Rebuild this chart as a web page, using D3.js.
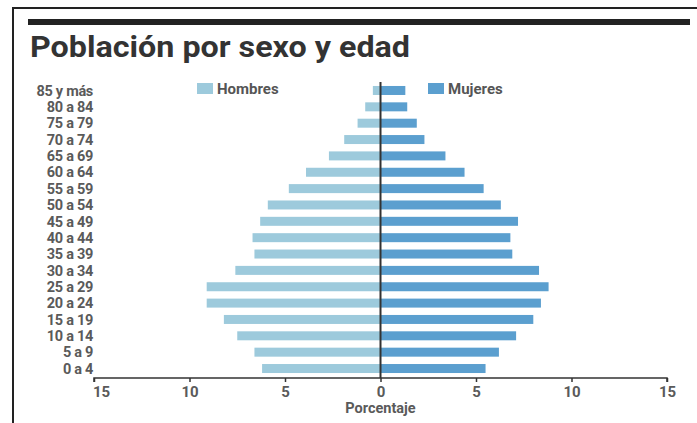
<!DOCTYPE html>
<html>
<head>
<meta charset="utf-8">
<script src="https://cdn.jsdelivr.net/npm/d3@7"></script>
<style>
  html, body { margin: 0; padding: 0; background: #fff; }
  svg { display: block; }
</style>
</head>
<body>
<svg id="chart" width="697" height="423"></svg>
<script>
// Age groups, top to bottom
const ageGroups = ["85 y más", "80 a 84", "75 a 79", "70 a 74", "65 a 69", "60 a 64",
  "55 a 59", "50 a 54", "45 a 49", "40 a 44", "35 a 39", "30 a 34", "25 a 29",
  "20 a 24", "15 a 19", "10 a 14", "5 a 9", "0 a 4"];

// Share of population (%) per age group
const hombres = [0.4, 0.8, 1.2, 1.9, 2.7, 3.9, 4.8, 5.9, 6.3, 6.7, 6.6, 7.6, 9.1, 9.1, 8.2, 7.5, 6.6, 6.2];
const mujeres = [1.3, 1.4, 1.9, 2.3, 3.4, 4.4, 5.4, 6.3, 7.2, 6.8, 6.9, 8.3, 8.8, 8.4, 8.0, 7.1, 6.2, 5.5];

const seriesNames = ["Hombres", "Mujeres"];
const tickValues = [-15, -10, -5, 0, 5, 10, 15];
const axisTitle = "Porcentaje";
const chartTitle = "Población por sexo y edad";

const colors = { Hombres: "#9dcadc", Mujeres: "#5b9fcf" };
const labelFont = "'Roboto', sans-serif";

const svg = d3.select("#chart");

// Frame
svg.append("line").attr("x1", 13).attr("x2", 13).attr("y1", 8).attr("y2", 423)
  .attr("stroke", "#222").attr("stroke-width", 2);
svg.append("line").attr("x1", 12).attr("x2", 697).attr("y1", 8).attr("y2", 8)
  .attr("stroke", "#222").attr("stroke-width", 2);
svg.append("rect").attr("x", 28).attr("y", 19).attr("width", 662).attr("height", 6)
  .attr("fill", "#222");

// Title
svg.append("text")
  .attr("x", 30).attr("y", 57)
  .attr("textLength", 380).attr("lengthAdjust", "spacingAndGlyphs")
  .style("font-family", "'Roboto', sans-serif")
  .style("font-weight", 700).style("font-size", "29px")
  .attr("fill", "#333")
  .text(chartTitle);

// Scales
const x = d3.scaleLinear().domain([-15, 15]).range([94, 667]);
const y = d3.scaleBand().domain(ageGroups).range([82.3, 376.7])
  .paddingInner(0.45).paddingOuter(0.225);

// Bars
const rows = ageGroups.map((g, i) => ({ g, h: hombres[i], m: mujeres[i] }));

svg.append("g").selectAll("rect").data(rows).join("rect")
  .attr("x", d => x(-d.h)).attr("width", d => x(0) - x(-d.h))
  .attr("y", d => y(d.g)).attr("height", y.bandwidth())
  .attr("fill", colors.Hombres);

svg.append("g").selectAll("rect").data(rows).join("rect")
  .attr("x", x(0)).attr("width", d => x(d.m) - x(0))
  .attr("y", d => y(d.g)).attr("height", y.bandwidth())
  .attr("fill", colors.Mujeres);

// Age labels
svg.append("g").selectAll("text").data(ageGroups).join("text")
  .attr("x", 93).attr("y", d => y(d) + y.bandwidth() / 2)
  .attr("dy", "0.36em").attr("text-anchor", "end")
  .style("font-family", labelFont).style("font-weight", 700).style("font-size", "14.5px")
  .style("letter-spacing", "-0.3px")
  .attr("fill", "#5a5a5a")
  .text(d => d);

// Center line
svg.append("line").attr("x1", x(0)).attr("x2", x(0)).attr("y1", 82).attr("y2", 378)
  .attr("stroke", "#333").attr("stroke-width", 2);

// Bottom axis
const axis = d3.axisBottom(x).tickValues(tickValues).tickSize(4).tickPadding(4)
  .tickFormat(d => Math.abs(d));
const ax = svg.append("g").attr("transform", "translate(0,378)").call(axis);
ax.select(".domain").attr("stroke", "#333").attr("stroke-width", 1.5)
  .attr("d", `M${x(-15)},4V0H${x(15)}V4`);
ax.selectAll(".tick line").attr("stroke", "#333").attr("stroke-width", 1.5);
ax.selectAll(".tick text")
  .style("font-family", labelFont).style("font-weight", 700).style("font-size", "15px")
  .attr("fill", "#5a5a5a");
// leftmost label sits just inside the axis end
ax.selectAll(".tick text").filter(d => d === -15).attr("x", 7);

svg.append("text").attr("x", x(0)).attr("y", 413).attr("text-anchor", "middle")
  .style("font-family", labelFont).style("font-weight", 700).style("font-size", "14.5px")
  .attr("fill", "#5a5a5a").text(axisTitle);

// Legend
const legendPos = [{ name: "Hombres", x: 197 }, { name: "Mujeres", x: 428 }];
const lg = svg.append("g").selectAll("g").data(legendPos).join("g")
  .attr("transform", d => `translate(${d.x},83)`);
lg.append("rect").attr("width", 16).attr("height", 11).attr("fill", d => colors[d.name]);
lg.append("text").attr("x", 20).attr("y", 5.5).attr("dy", "0.36em")
  .style("font-family", labelFont).style("font-weight", 700).style("font-size", "15px")
  .attr("fill", "#555").text(d => d.name);
</script>
</body>
</html>
